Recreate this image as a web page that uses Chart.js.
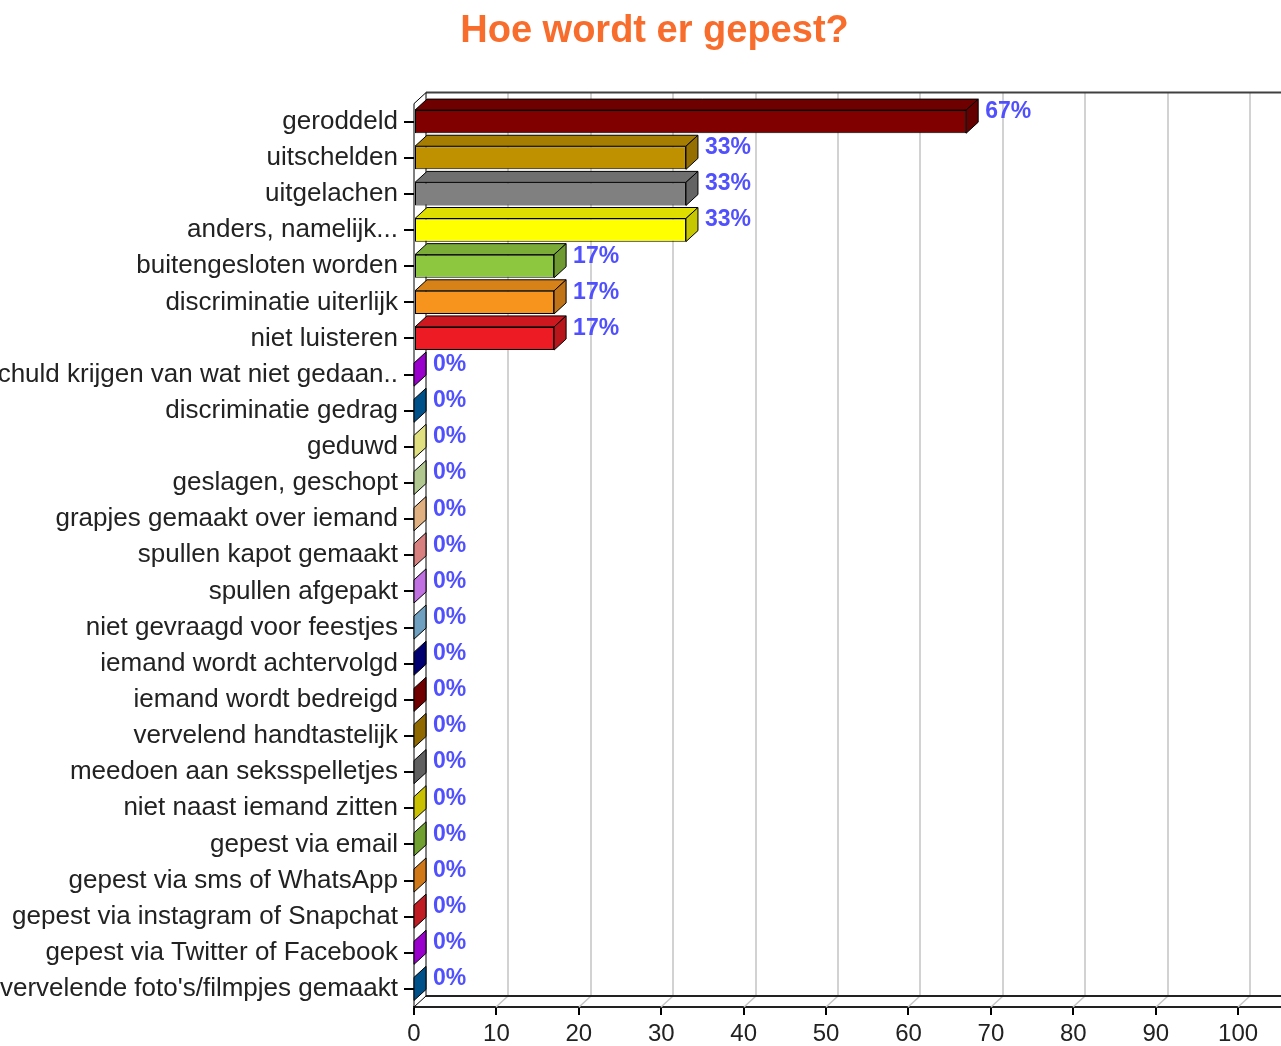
<!DOCTYPE html>
<html>
<head>
<meta charset="utf-8">
<script src="https://cdn.jsdelivr.net/npm/chart.js@4.4.0/dist/chart.umd.min.js"></script>
<style>
  html, body { margin: 0; padding: 0; background: #fff; }
  #wrap { width: 1281px; height: 1046px; }
</style>
</head>
<body>
<div id="wrap"><canvas id="chart"></canvas></div>
<script>
// chart data
const categories = [
  "geroddeld",
  "uitschelden",
  "uitgelachen",
  "anders, namelijk...",
  "buitengesloten worden",
  "discriminatie uiterlijk",
  "niet luisteren",
  "de schuld krijgen van wat niet gedaan..",
  "discriminatie gedrag",
  "geduwd",
  "geslagen, geschopt",
  "grapjes gemaakt over iemand",
  "spullen kapot gemaakt",
  "spullen afgepakt",
  "niet gevraagd voor feestjes",
  "iemand wordt achtervolgd",
  "iemand wordt bedreigd",
  "vervelend handtastelijk",
  "meedoen aan seksspelletjes",
  "niet naast iemand zitten",
  "gepest via email",
  "gepest via sms of WhatsApp",
  "gepest via instagram of Snapchat",
  "gepest via Twitter of Facebook",
  "vervelende foto's/filmpjes gemaakt"
];
const percentages = [67, 33, 33, 33, 17, 17, 17, 0, 0, 0, 0, 0, 0, 0, 0, 0, 0, 0, 0, 0, 0, 0, 0, 0, 0];
const barColors = [
  "#800000", "#bf9000", "#808080", "#ffff00", "#8dc63f", "#f7941d", "#ed1c24",
  "#9900cc", "#00508a", "#e0e080", "#b0c890", "#e0b080", "#d88080", "#c070e0",
  "#70a0c0", "#000070", "#700000", "#906800", "#606060", "#c8c000", "#70a030",
  "#d07818", "#c01c24", "#9900cc", "#00508a"
];
const xTicks = [0, 10, 20, 30, 40, 50, 60, 70, 80, 90, 100];

// depth of the fake 3d
const DX = 12, DY = -11;

function shade(hex, f) {
  const n = parseInt(hex.slice(1), 16);
  const r = Math.round(((n >> 16) & 255) * f);
  const g = Math.round(((n >> 8) & 255) * f);
  const b = Math.round((n & 255) * f);
  return `rgb(${r},${g},${b})`;
}

function poly(ctx, pts, fill) {
  ctx.beginPath();
  ctx.moveTo(pts[0][0], pts[0][1]);
  for (let i = 1; i < pts.length; i++) ctx.lineTo(pts[i][0], pts[i][1]);
  ctx.closePath();
  if (fill) { ctx.fillStyle = fill; ctx.fill(); }
  ctx.stroke();
}

// back wall, floor and grid
const wallPlugin = {
  id: "wall",
  beforeDatasetsDraw(chart) {
    const { ctx, chartArea } = chart;
    const { left, top, bottom } = chartArea;
    const right = chart.width;
    const xs = chart.scales.x;
    ctx.save();

    // grid lines on the back wall + floor diagonals
    ctx.strokeStyle = "#c4c4c4";
    ctx.lineWidth = 1.5;
    xTicks.forEach(v => {
      if (v === 0) return;
      const px = Math.round(xs.getPixelForValue(v));
      ctx.beginPath();
      ctx.moveTo(px + DX, top + DY);
      ctx.lineTo(px + DX, bottom + DY);
      ctx.moveTo(px, bottom);
      ctx.lineTo(px + DX, bottom + DY);
      ctx.stroke();
    });

    // top back edge
    ctx.strokeStyle = "#404040";
    ctx.lineWidth = 2;
    ctx.beginPath();
    ctx.moveTo(left + DX, top + DY);
    ctx.lineTo(right, top + DY);
    ctx.stroke();

    // back floor edge
    ctx.strokeStyle = "#222";
    ctx.beginPath();
    ctx.moveTo(left + DX, bottom + DY);
    ctx.lineTo(right, bottom + DY);
    ctx.stroke();

    // left wall
    ctx.lineWidth = 1;
    ctx.strokeStyle = "#000";
    poly(ctx, [[left, top], [left + DX, top + DY], [left + DX, bottom + DY], [left, bottom]], "#fff");
    ctx.restore();
  }
};

// 3d faces and value labels
const boxPlugin = {
  id: "box3d",
  afterDatasetsDraw(chart) {
    const { ctx } = chart;
    const meta = chart.getDatasetMeta(0);
    ctx.save();
    ctx.lineWidth = 1;
    ctx.strokeStyle = "#000";
    meta.data.forEach((bar, i) => {
      const { x, y, base, height } = bar.getProps(["x", "y", "base", "height"], true);
      const t = y - height / 2, b = y + height / 2;
      const c = barColors[i];
      if (percentages[i] > 0) {
        poly(ctx, [[base, t], [base + DX, t + DY], [x + DX, t + DY], [x, t]], shade(c, 0.87));
        poly(ctx, [[x, t], [x + DX, t + DY], [x + DX, b + DY], [x, b]], shade(c, 0.78));
      } else {
        poly(ctx, [[x, t], [x + DX, t + DY], [x + DX, b + DY], [x, b]], c);
      }
      ctx.fillStyle = "#5050ff";
      ctx.font = "bold 23px 'Liberation Sans', Arial, sans-serif";
      ctx.textAlign = "left";
      ctx.textBaseline = "middle";
      ctx.fillText(percentages[i] + "%", x + DX + 7, y + DY + 1);
    });
    ctx.restore();
  }
};

const ctx = document.getElementById("chart").getContext("2d");
new Chart(ctx, {
  type: "bar",
  data: {
    labels: categories,
    datasets: [{
      data: percentages,
      backgroundColor: barColors,
      borderColor: "#000",
      borderWidth: c => (c.raw > 0 ? 1 : 0),
      borderSkipped: false,
      barPercentage: 0.64,
      categoryPercentage: 1
    }]
  },
  options: {
    indexAxis: "y",
    responsive: true,
    maintainAspectRatio: false,
    animation: false,
    devicePixelRatio: 1,
    // negative right padding only shifts the title centre to the right
    layout: { padding: { left: 0, right: -28, top: 0, bottom: 0 } },
    plugins: {
      legend: { display: false },
      tooltip: { enabled: false },
      title: {
        display: true,
        text: "Hoe wordt er gepest?",
        color: "#f86d2c",
        font: { family: "'Liberation Sans', Arial, sans-serif", size: 38, weight: "bold" },
        padding: { top: 9, bottom: 49 }
      }
    },
    scales: {
      x: {
        type: "linear",
        min: 0,
        max: 105.2,
        afterBuildTicks: s => { s.ticks = xTicks.map(v => ({ value: v })); },
        afterFit: s => { s.height = 39; },
        grid: { drawOnChartArea: false, tickLength: 8, color: "#000", lineWidth: 2 },
        border: { color: "#222", width: 2 },
        ticks: {
          color: "#222",
          padding: 5,
          maxRotation: 0,
          font: { family: "'Liberation Sans', Arial, sans-serif", size: 24 }
        }
      },
      y: {
        type: "category",
        afterFit: s => { s.width = 414; },
        grid: { drawOnChartArea: false, offset: false, tickLength: 10, color: "#000", lineWidth: 2 },
        border: { color: "#000", width: 1 },
        ticks: {
          color: "#222",
          padding: 6,
          autoSkip: false,
          font: { family: "'Liberation Sans', Arial, sans-serif", size: 26 }
        }
      }
    }
  },
  plugins: [wallPlugin, boxPlugin]
});
</script>
</body>
</html>
